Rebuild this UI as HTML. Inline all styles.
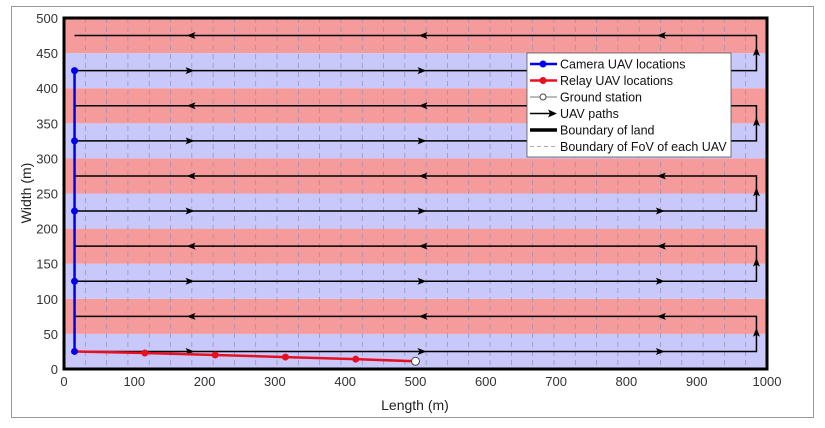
<!DOCTYPE html>
<html><head><meta charset="utf-8"><style>
body{margin:0;background:#fff;}
svg{display:block;font-family:"Liberation Sans",sans-serif;}
</style></head><body>
<svg width="825" height="428" viewBox="0 0 825 428" xmlns="http://www.w3.org/2000/svg">
<rect x="0" y="0" width="825" height="428" fill="#fff"/>
<rect x="11.5" y="6.5" width="802" height="411" fill="none" stroke="#999" stroke-width="1"/>
<g id="bands"></g>
<g id="grid"></g>
<g id="paths"></g>
<rect x="64" y="18" width="703" height="351" fill="none" stroke="#000" stroke-width="3"/>
<g id="ticks" font-size="13" fill="#333"></g>
<text x="415" y="410" font-size="14" text-anchor="middle" fill="#222">Length (m)</text>
<text transform="translate(31,193) rotate(-90)" font-size="14" text-anchor="middle" fill="#222">Width (m)</text>
<g>
<rect x="527" y="53" width="204" height="104" fill="#fff" stroke="#555" stroke-width="0.8"/>
<line x1="530" y1="64" x2="557" y2="64" stroke="#0000ee" stroke-width="2.5"/><circle cx="543" cy="64" r="3.5" fill="#0000ee"/>
<text x="560" y="68.5" font-size="12.5" fill="#111">Camera UAV locations</text>
<line x1="530" y1="80.5" x2="557" y2="80.5" stroke="#e8101e" stroke-width="2.5"/><circle cx="543" cy="80.5" r="3.5" fill="#e8101e"/>
<text x="560" y="85" font-size="12.5" fill="#111">Relay UAV locations</text>
<line x1="530" y1="97" x2="557" y2="97" stroke="#777" stroke-width="1"/><circle cx="543" cy="97" r="3" fill="#fff" stroke="#444"/>
<text x="560" y="101.5" font-size="12.5" fill="#111">Ground station</text>
<line x1="530" y1="113.5" x2="555" y2="113.5" stroke="#000" stroke-width="1.5"/><path d="M557,113.5 L548,109.5 L550,113.5 L548,117.5Z" fill="#000"/>
<text x="560" y="118" font-size="12.5" fill="#111">UAV paths</text>
<line x1="530" y1="130" x2="557" y2="130" stroke="#000" stroke-width="3.5"/>
<text x="560" y="134.5" font-size="12.5" fill="#111">Boundary of land</text>
<line x1="530" y1="146.5" x2="557" y2="146.5" stroke="#aab" stroke-width="1" stroke-dasharray="4,3"/>
<text x="560" y="151" font-size="12.5" fill="#111">Boundary of FoV of each UAV</text>
</g>
<script>
var X=m=>64+m*0.703, Y=m=>369-m*0.702, ns="http://www.w3.org/2000/svg";
function el(p,t,a){var e=document.createElementNS(ns,t);for(var k in a)e.setAttribute(k,a[k]);document.getElementById(p).appendChild(e);return e;}
for(var i=0;i<10;i++)el("bands","rect",{x:64,y:Y(50*(i+1)),width:703,height:35.1,fill:i%2?"#f69b9b":"#c8c8fb"});
for(var k=1;k<33;k++){var x=X(k*1000/33);el("grid","line",{x1:x,y1:18,x2:x,y2:369,stroke:"#9090b0","stroke-width":0.7,"stroke-dasharray":"5,4"});}
function arrow(x,y,dir){var d;if(dir=="r")d=`M${x+4},${y} L${x-5},${y-3.5} L${x-3},${y} L${x-5},${y+3.5}Z`;
else if(dir=="l")d=`M${x-4},${y} L${x+5},${y-3.5} L${x+3},${y} L${x+5},${y+3.5}Z`;
else d=`M${x},${y-4} L${x-3.5},${y+5} L${x},${y+3} L${x+3.5},${y+5}Z`;el("paths","path",{d:d,fill:"#000"});}
for(var j=0;j<5;j++){var y1=Y(25+100*j),y2=Y(75+100*j);
el("paths","path",{d:`M${X(15)},${y1} H${X(985)} V${y2} H${X(15)}`,fill:"none",stroke:"#000","stroke-width":1.5});
[180,510,849].forEach(m=>{arrow(X(m),y1,"r");arrow(X(m),y2,"l");});
arrow(X(985),Y(53+100*j),"u");}
var rp=[[15,25],[115,22.8],[215,20],[315,17],[415,14],[500,11]];
el("paths","polyline",{points:rp.map(p=>X(p[0])+","+Y(p[1])).join(" "),fill:"none",stroke:"#e8101e","stroke-width":2.5});
for(var j=1;j<5;j++)el("paths","circle",{cx:X(rp[j][0]),cy:Y(rp[j][1]),r:3.5,fill:"#e8101e"});
el("paths","circle",{cx:X(500),cy:Y(11),r:4,fill:"#fff",stroke:"#444","stroke-width":1});
el("paths","line",{x1:X(15),y1:Y(25),x2:X(15),y2:Y(425),stroke:"#0000ee","stroke-width":2.5});
for(var j=0;j<5;j++)el("paths","circle",{cx:X(15),cy:Y(25+100*j),r:3.5,fill:"#0000ee"});
for(var v=0;v<=1000;v+=100){var t=el("ticks","text",{x:X(v),y:386,"text-anchor":"middle"});t.textContent=v;}
for(var v=0;v<=500;v+=50){var t=el("ticks","text",{x:58,y:Y(v)+5,"text-anchor":"end"});t.textContent=v;}
</script>
</svg>
</body></html>
